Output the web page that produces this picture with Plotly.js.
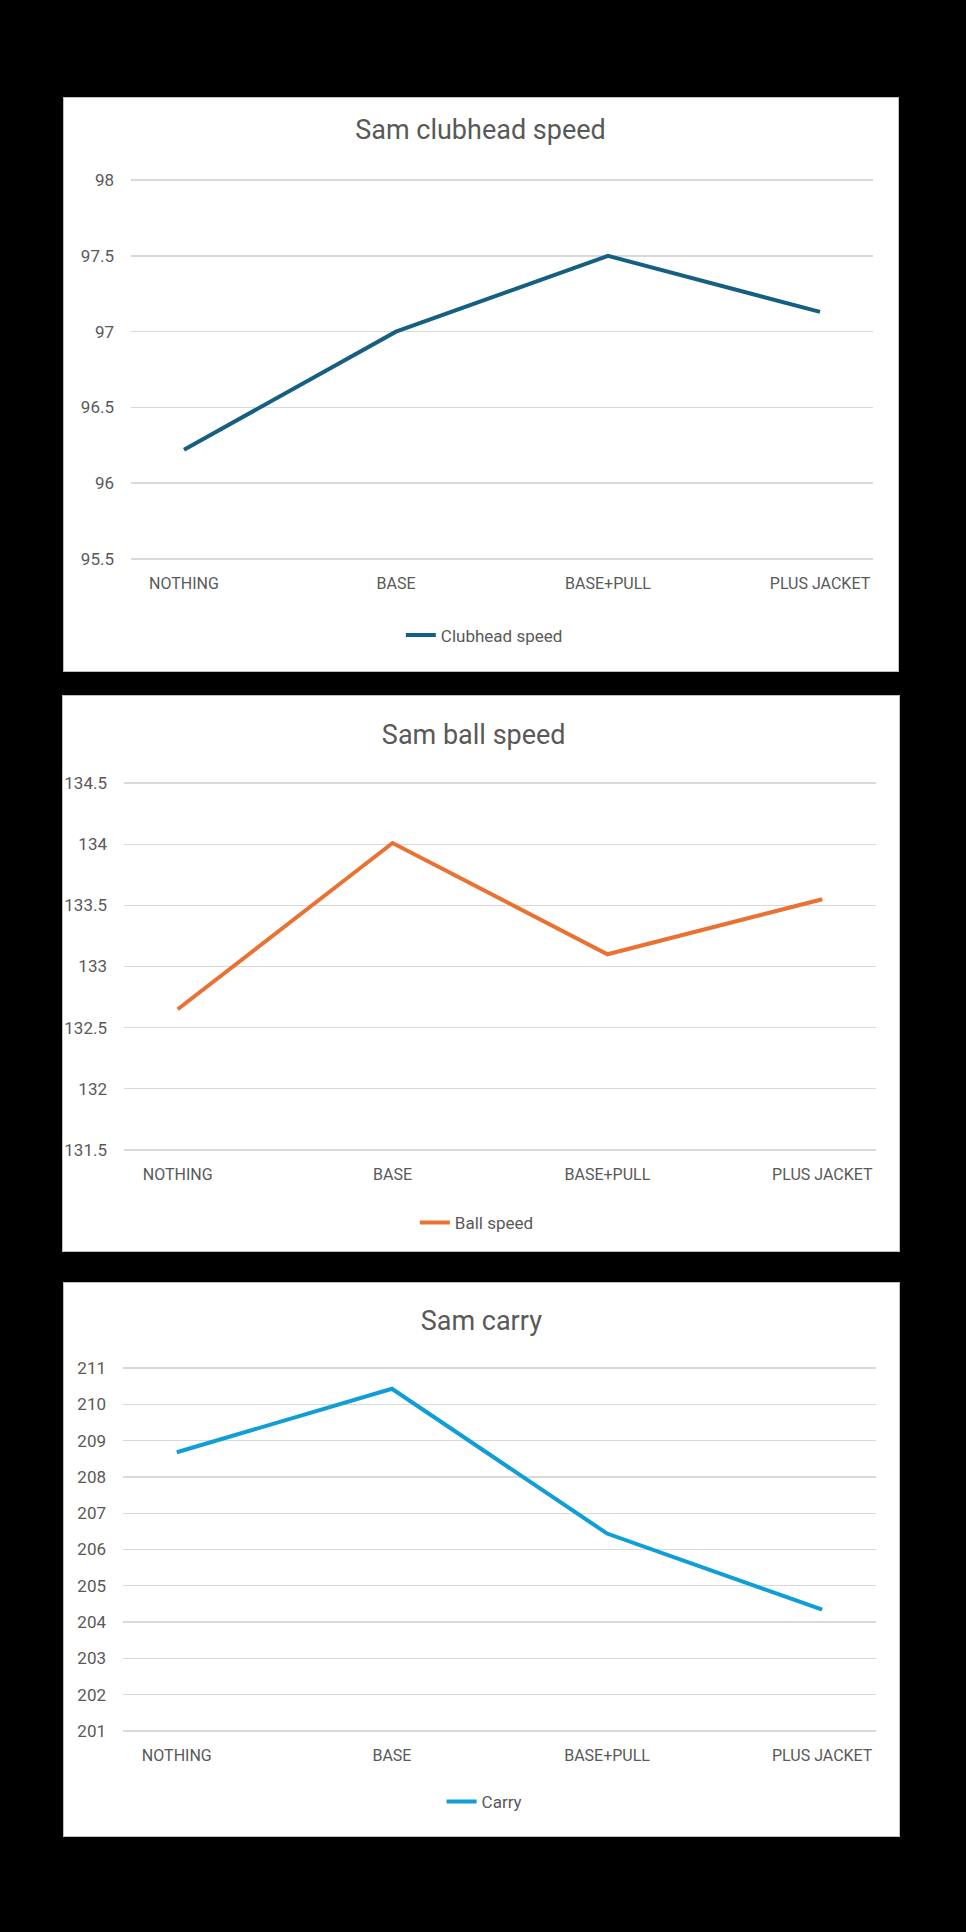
<!DOCTYPE html>
<html>
<head>
<meta charset="utf-8">
<script src="https://cdn.plot.ly/plotly-3.0.1.min.js"></script>
<style>
  html, body { margin: 0; padding: 0; background: #000; width: 966px; height: 1932px; overflow: hidden; }
  .panel { position: absolute; background: #fff; outline: 1px solid #bfbfbf; }
</style>
</head>
<body>
<div id="p1" class="panel" style="left:64px; top:98px; width:834px; height:573px;"></div>
<div id="p2" class="panel" style="left:63px; top:696px; width:836px; height:555px;"></div>
<div id="p3" class="panel" style="left:64px; top:1283px; width:835px; height:553px;"></div>
<script>
// ---- data ----
const categories = ["NOTHING", "BASE", "BASE+PULL", "PLUS JACKET"];

const clubheadSpeed = [96.22, 97.0, 97.5, 97.13];
const ballSpeed = [132.65, 134.01, 133.1, 133.55];
const carry = [208.68, 210.43, 206.44, 204.34];

const clubheadTicks = [95.5, 96, 96.5, 97, 97.5, 98];
const clubheadTickText = ["95.5", "96", "96.5", "97", "97.5", "98"];
const ballTicks = [131.5, 132, 132.5, 133, 133.5, 134, 134.5];
const ballTickText = ["131.5", "132", "132.5", "133", "133.5", "134", "134.5"];
const carryTicks = [201, 202, 203, 204, 205, 206, 207, 208, 209, 210, 211];
const carryTickText = ["201", "202", "203", "204", "205", "206", "207", "208", "209", "210", "211"];

const titles = ["Sam clubhead speed", "Sam ball speed", "Sam carry"];
const seriesNames = ["Clubhead speed", "Ball speed", "Carry"];
// ---- end data ----

const FONT = "Roboto, 'Open Sans', sans-serif";
const TEXT = "#595959";

function draw(id, cfg) {
  const lo = cfg.ticks[0], hi = cfg.ticks[cfg.ticks.length - 1];
  const eps = (hi - lo) * 0.003;
  const trace = {
    x: categories,
    y: cfg.values,
    type: "scatter",
    mode: "lines",
    name: cfg.name,
    line: { color: cfg.color, width: 4 },
    showlegend: true,
    hoverinfo: "skip"
  };
  const layout = {
    width: cfg.w,
    height: cfg.h,
    paper_bgcolor: "#ffffff",
    plot_bgcolor: "#ffffff",
    margin: cfg.margin,
    font: { family: FONT, color: TEXT, size: 17 },
    title: {
      text: cfg.title,
      font: { family: FONT, size: 27, color: TEXT },
      x: cfg.titleX, xanchor: "center", xref: "container",
      y: cfg.titleY, yanchor: "middle", yref: "container"
    },
    xaxis: {
      type: "category",
      range: [-0.25, 3.25],
      showgrid: false,
      zeroline: false,
      showline: false,
      ticks: "",
      ticklabelstandoff: 12,
      tickfont: { family: FONT, size: 16, color: TEXT },
      fixedrange: true
    },
    yaxis: {
      range: [lo - eps, hi + eps],
      tickvals: cfg.ticks,
      ticktext: cfg.tickText,
      showgrid: true,
      gridcolor: "#d9d9d9",
      gridwidth: 1.4,
      zeroline: false,
      showline: false,
      ticks: "",
      ticklabelstandoff: 16,
      tickfont: { family: FONT, size: 17, color: TEXT },
      fixedrange: true
    },
    showlegend: true,
    legend: {
      orientation: "h",
      x: cfg.legX, xanchor: "center", xref: "container",
      y: cfg.legY, yanchor: "middle", yref: "container",
      font: { family: FONT, size: 17, color: TEXT },
      bgcolor: "rgba(0,0,0,0)"
    }
  };
  Plotly.newPlot(id, [trace], layout, { staticPlot: true, displayModeBar: false });
}

draw("p1", {
  values: clubheadSpeed, name: seriesNames[0], color: "#156082", title: titles[0],
  ticks: clubheadTicks, tickText: clubheadTickText,
  w: 834, h: 573, margin: { l: 67, r: 25, t: 81, b: 111, pad: 0 },
  titleX: 0.4994, titleY: 0.945, legX: 0.504, legY: 0.062
});

draw("p2", {
  values: ballSpeed, name: seriesNames[1], color: "#E97132", title: titles[1],
  ticks: ballTicks, tickText: ballTickText,
  w: 836, h: 555, margin: { l: 61, r: 23, t: 86, b: 100, pad: 0 },
  titleX: 0.4913, titleY: 0.93, legX: 0.495, legY: 0.0505
});

draw("p3", {
  values: carry, name: seriesNames[2], color: "#0F9ED5", title: titles[2],
  ticks: carryTicks, tickText: carryTickText,
  w: 835, h: 553, margin: { l: 59, r: 23, t: 84, b: 104, pad: 0 },
  titleX: 0.4998, titleY: 0.9325, legX: 0.5037, legY: 0.0615
});
</script>
</body>
</html>
